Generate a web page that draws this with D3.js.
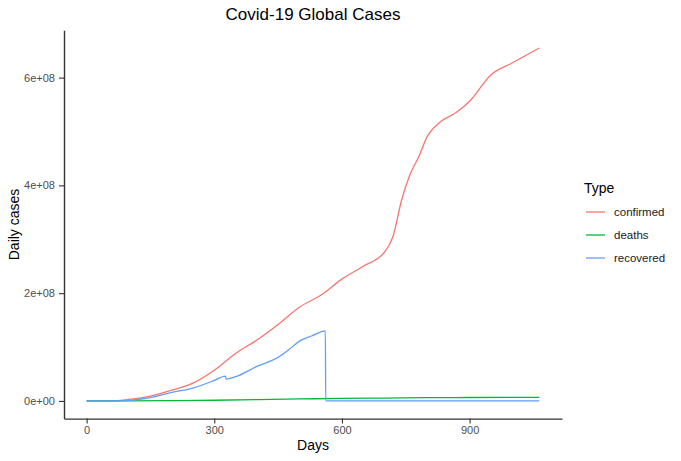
<!DOCTYPE html>
<html>
<head>
<meta charset="utf-8">
<script src="https://cdn.jsdelivr.net/npm/d3@7"></script>
<style>
  body { margin: 0; background: #fff; }
  svg { font-family: "Liberation Sans", Arial, Helvetica, sans-serif; }
</style>
</head>
<body>
<div id="chart"></div>
<script>
// Series (days since start, values in cases)
const confirmedDays = [0, 50, 100, 150, 200, 250, 300, 350, 400, 450, 500, 550, 600, 650, 700, 720, 740, 760, 780, 800, 830, 870, 900, 950, 1000, 1064];
const confirmedValues = [0, 0.1e6, 3e6, 9e6, 20e6, 33e6, 57e6, 88e6, 113e6, 142e6, 174e6, 196e6, 226e6, 250e6, 276e6, 305e6, 372e6, 420e6, 452e6, 490e6, 517e6, 536e6, 556e6, 605e6, 627e6, 655e6];

const deathsDays = [0, 100, 200, 300, 400, 500, 600, 700, 800, 900, 1000, 1064];
const deathsValues = [0, 0.23e6, 0.73e6, 1.33e6, 2.5e6, 3.7e6, 4.6e6, 5.4e6, 6.2e6, 6.4e6, 6.55e6, 6.7e6];

const recoveredDays = [0, 50, 100, 150, 200, 250, 300, 326, 328, 350, 400, 450, 475, 500, 530, 561, 562, 1064];
const recoveredValues = [0, 0.05e6, 1.2e6, 6e6, 16e6, 24e6, 38e6, 46e6, 40.5e6, 45e6, 64e6, 81e6, 95e6, 111e6, 121e6, 130e6, 0, 0];

const seriesNames = ["confirmed", "deaths", "recovered"];
const seriesColors = ["#F8766D", "#00BA38", "#619CFF"];

const xTicks = [0, 300, 600, 900];
const yTicks = [0, 2e8, 4e8, 6e8];
const yTickLabels = ["0e+00", "2e+08", "4e+08", "6e+08"];

const width = 681;
const height = 461;
const panel = { left: 64, top: 30.3, right: 562, bottom: 418.6 };

const series = [
  { name: seriesNames[0], color: seriesColors[0], days: confirmedDays, values: confirmedValues },
  { name: seriesNames[1], color: seriesColors[1], days: deathsDays, values: deathsValues },
  { name: seriesNames[2], color: seriesColors[2], days: recoveredDays, values: recoveredValues }
];

// ggplot-style 5% expansion
const xMax = d3.max(series, (s) => d3.max(s.days));
const yMax = d3.max(series, (s) => d3.max(s.values));
const xScale = d3.scaleLinear()
  .domain([-0.05 * xMax, 1.05 * xMax])
  .range([panel.left, panel.right]);
const yScale = d3.scaleLinear()
  .domain([-0.05 * yMax, 1.05 * yMax])
  .range([panel.bottom, panel.top]);

const svg = d3.select("#chart")
  .append("svg")
  .attr("width", width)
  .attr("height", height);

// Lines
const line = d3.line()
  .x((d) => xScale(d[0]))
  .y((d) => yScale(d[1]))
  .curve(d3.curveMonotoneX);

series.forEach((s) => {
  svg.append("path")
    .datum(s.days.map((d, i) => [d, s.values[i]]))
    .attr("fill", "none")
    .attr("stroke", s.color)
    .attr("stroke-width", 1.3)
    .attr("d", line);
});

// Axes
const xAxis = svg.append("g")
  .attr("transform", `translate(0, ${panel.bottom})`)
  .call(d3.axisBottom(xScale).tickValues(xTicks).tickSize(5).tickSizeOuter(0).tickPadding(3));

const yAxis = svg.append("g")
  .attr("transform", `translate(${panel.left}, 0)`)
  .call(d3.axisLeft(yScale).tickValues(yTicks).tickFormat((d, i) => yTickLabels[i])
    .tickSize(5).tickSizeOuter(0).tickPadding(4));

[xAxis, yAxis].forEach((ax) => {
  ax.select(".domain").attr("stroke", "#333").attr("stroke-width", 1.4);
  ax.selectAll(".tick line").attr("stroke", "#333").attr("stroke-width", 1.1);
  ax.selectAll(".tick text")
    .attr("fill", "#4d4d4d")
    .style("font-size", "11px")
    .style("font-family", "Liberation Sans, Arial, sans-serif");
});

// Titles
const panelMidX = (panel.left + panel.right) / 2;
svg.append("text")
  .attr("x", panelMidX)
  .attr("y", 20)
  .attr("text-anchor", "middle")
  .style("font-size", "17px")
  .text("Covid-19 Global Cases");

svg.append("text")
  .attr("x", panelMidX)
  .attr("y", 450)
  .attr("text-anchor", "middle")
  .style("font-size", "14px")
  .text("Days");

svg.append("text")
  .attr("transform", `translate(19, ${(panel.top + panel.bottom) / 2}) rotate(-90)`)
  .attr("text-anchor", "middle")
  .style("font-size", "14px")
  .text("Daily cases");

// Legend
const legend = svg.append("g").attr("transform", "translate(584, 0)");
legend.append("text")
  .attr("x", 0)
  .attr("y", 193)
  .style("font-size", "14px")
  .text("Type");

series.forEach((s, i) => {
  const yy = 212 + i * 23;
  legend.append("line")
    .attr("x1", 2).attr("x2", 21)
    .attr("y1", yy).attr("y2", yy)
    .attr("stroke", s.color)
    .attr("stroke-width", 1.3);
  legend.append("text")
    .attr("x", 30)
    .attr("y", yy + 4)
    .style("font-size", "11.5px")
    .attr("fill", "#1a1a1a")
    .text(s.name);
});
</script>
</body>
</html>
